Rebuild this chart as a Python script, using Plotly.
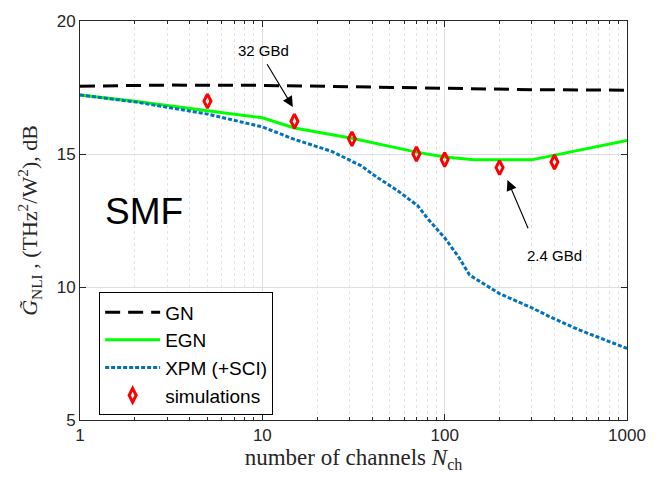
import math
import plotly.graph_objects as go

# Number of WDM channels and NLI efficiency (dB) for each model
n_gn = [1, 3, 10, 30, 100, 300, 1000]
g_gn = [17.55, 17.59, 17.58, 17.52, 17.46, 17.42, 17.40]

n_egn = [1, 2, 5, 10, 15, 31, 70, 100, 145, 300, 1000]
g_egn = [17.22, 16.98, 16.63, 16.36, 15.98, 15.59, 15.07, 14.89, 14.78, 14.78, 15.51]

n_xpm = [1, 2, 5, 10, 15, 24, 35, 41, 55, 71, 80, 100, 120, 137, 200, 300, 400, 550, 1000]
g_xpm = [17.22, 16.96, 16.50, 16.02, 15.55, 15.10, 14.55, 14.20, 13.63, 13.06, 12.60,
         11.85, 11.10, 10.45, 9.75, 9.22, 8.80, 8.38, 7.69]

n_sim = [5, 15, 31, 70, 100, 200, 400]
g_sim = [16.99, 16.23, 15.57, 15.00, 14.79, 14.49, 14.70]

x_ticks = [1, 10, 100, 1000]
x_ticktext = ["1", "10", "100", "1000"]
y_ticks = [5, 10, 15, 20]

AX = "#262626"
SANS = "Liberation Sans, Arial, sans-serif"
SERIF = "Liberation Serif, Times New Roman, serif"

fig = go.Figure()
fig.add_trace(go.Scatter(x=n_gn, y=g_gn, mode="lines", name="GN",
                         line=dict(color="black", width=3, dash="15px,8px")))
fig.add_trace(go.Scatter(x=n_egn, y=g_egn, mode="lines", name="EGN",
                         line=dict(color="#00ff00", width=3)))
fig.add_trace(go.Scatter(x=n_xpm, y=g_xpm, mode="lines", name="XPM (+SCI)",
                         line=dict(color="#0072BD", width=3, dash="4px,2px")))
fig.add_trace(go.Scatter(x=n_sim, y=g_sim, mode="markers", name="simulations",
                         marker=dict(symbol="diamond-tall-open", size=10, color="red",
                                     line=dict(color="red", width=3))))

# baud-rate callouts with arrows (x in log10 units on the log axis)
arrows = [
    dict(tip=(14.7, 16.77), tail=(10.5, 18.43)),
    dict(tip=(221, 14.02), tail=(289, 12.15)),
]
for a in arrows:
    fig.add_annotation(x=math.log10(a["tip"][0]), y=a["tip"][1],
                       ax=math.log10(a["tail"][0]), ay=a["tail"][1],
                       axref="x", ayref="y", xref="x", yref="y", text="",
                       showarrow=True, arrowhead=2, arrowsize=1.9, arrowwidth=1.1,
                       arrowcolor="black")

fig.add_annotation(x=math.log10(10.2), y=18.9, text="32 GBd", showarrow=False,
                   font=dict(family=SANS, size=15, color="black"))
fig.add_annotation(x=math.log10(400), y=11.18, text="2.4 GBd", showarrow=False,
                   font=dict(family=SANS, size=15, color="black"))
fig.add_annotation(x=math.log10(2.25), y=12.84, text="SMF", showarrow=False,
                   font=dict(family=SANS, size=37, color="black"))

fig.update_layout(
    width=658, height=493,
    margin=dict(l=80, r=28, t=16, b=73),
    paper_bgcolor="white", plot_bgcolor="white",
    showlegend=True,
    legend=dict(x=0.035, y=0.32, xanchor="left", yanchor="top",
                bgcolor="white", bordercolor="black", borderwidth=1,
                font=dict(family=SANS, size=19, color="black"),
                itemwidth=55, tracegroupgap=0),
)

fig.update_xaxes(
    type="log", range=[0, 3],
    tickvals=x_ticks, ticktext=x_ticktext,
    ticks="inside", ticklen=6, tickcolor=AX,
    showline=True, linecolor=AX, linewidth=1, mirror="allticks",
    showgrid=True, gridcolor="#dedede", gridwidth=1,
    minor=dict(dtick="D1", ticks="inside", ticklen=3, tickcolor=AX,
               showgrid=True, gridcolor="#e4e4e4", griddash="dot"),
    tickfont=dict(family=SANS, size=17, color=AX),
    zeroline=False,
    title=dict(text="number of channels <i>N</i><sub>ch</sub>",
               font=dict(family=SERIF, size=23, color=AX), standoff=3),
)
fig.update_yaxes(
    range=[5, 20], tickvals=y_ticks,
    ticks="inside", ticklen=6, tickcolor=AX,
    showline=True, linecolor=AX, linewidth=1, mirror="allticks",
    showgrid=True, gridcolor="#dedede", gridwidth=1,
    tickfont=dict(family=SANS, size=17, color=AX),
    zeroline=False,
    title=dict(text="<i>G̃</i><sub>NLI</sub> , (THz<sup>2</sup>/W<sup>2</sup>), dB",
               font=dict(family=SERIF, size=22, color=AX), standoff=12),
)

fig.write_html("out.html")
